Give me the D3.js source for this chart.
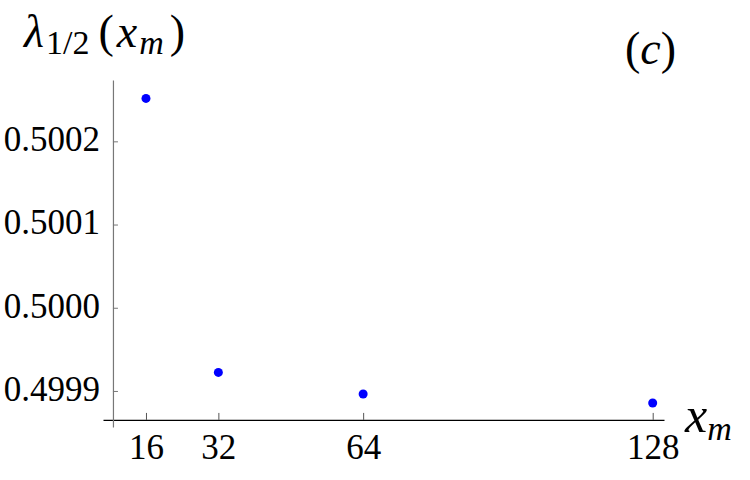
<html>
<head>
<meta charset="utf-8"/>
<script src="https://d3js.org/d3.v7.min.js"></script>
<style type="text/css">
body {
  margin: 0;
  background: #fff;
}
svg text {
  font-family: "Liberation Serif", "DejaVu Serif", serif;
}
</style>
</head>
<body>
<div id="v"></div>
<script type="text/javascript">
var xm = [16, 32, 64, 128];
var lambdaHalf = [0.5002516, 0.4999223, 0.4998964, 0.4998856];
var xTicks = [16, 32, 64, 128];
var yTicks = [0.4999, 0.5000, 0.5001, 0.5002];

var width = 750, height = 480;
var svg = d3.select("#v").append("svg")
  .attr("width", width)
  .attr("height", height);

var x = d3.scaleLinear().domain([6.5, 130.5]).range([103, 664]);
var y = d3.scaleLinear().domain([0.4998567, 0.5002737]).range([427, 80]);

// axis crossing point (Mathematica style origin)
var xOrigin = 8.7;
var yOrigin = 0.4998652;

var gx = svg.append("g")
  .attr("transform", "translate(0," + y(yOrigin) + ")")
  .call(d3.axisBottom(x).tickValues(xTicks).tickSizeInner(-7).tickSizeOuter(0).tickPadding(14));
gx.attr("font-family", null).attr("font-size", null);
gx.select(".domain").attr("stroke", "#000").attr("stroke-width", 1.2);
gx.selectAll(".tick line").attr("stroke", "#555");
gx.selectAll(".tick text")
  .attr("fill", "#000")
  .style("font-size", "35px")
  .attr("dy", "0.71em");

var gy = svg.append("g")
  .attr("transform", "translate(" + x(xOrigin) + ",0)")
  .call(d3.axisLeft(y).tickValues(yTicks).tickFormat(d3.format(".4f")).tickSizeInner(-5).tickSizeOuter(0).tickPadding(13));
gy.attr("font-family", null).attr("font-size", null);
gy.select(".domain").attr("stroke", "#777").attr("stroke-width", 1.2);
gy.selectAll(".tick line").attr("stroke", "#777");
gy.selectAll(".tick text")
  .attr("fill", "#000")
  .style("font-size", "35px")
  .attr("dy", "0.27em");

svg.append("g").selectAll("circle")
  .data(xm).enter()
  .append("circle")
  .attr("cx", function(d) { return x(d); })
  .attr("cy", function(d, i) { return y(lambdaHalf[i]); })
  .attr("r", 4.5)
  .attr("fill", "#0000ff");

// y label
var yl = svg.append("text")
  .attr("x", 24)
  .attr("y", 47)
  .style("font-size", "46px")
  .attr("fill", "#000");
yl.append("tspan").style("font-style", "italic").text("λ");
yl.append("tspan").attr("dy", 7).attr("dx", 2).style("font-size", "34px").text("1/2");
yl.append("tspan").attr("dy", -7).attr("dx", 9).text("(");
yl.append("tspan").attr("dx", 3).style("font-style", "italic").text("x");
yl.append("tspan").attr("dy", 7).attr("dx", 2).style("font-size", "34px").style("font-style", "italic").text("m");
yl.append("tspan").attr("dy", -7).attr("dx", 6).text(")");

// panel label
svg.append("text")
  .attr("x", 625)
  .attr("y", 64)
  .style("font-size", "46px")
  .attr("fill", "#000")
  .html('(<tspan font-style="italic">c</tspan>)');

// x label
var xl = svg.append("text")
  .attr("x", 685)
  .attr("y", 432)
  .style("font-size", "50px")
  .attr("fill", "#000");
xl.append("tspan").style("font-style", "italic").text("x");
xl.append("tspan").attr("dy", 8).style("font-size", "34px").style("font-style", "italic").text("m");
</script>
</body>
</html>
